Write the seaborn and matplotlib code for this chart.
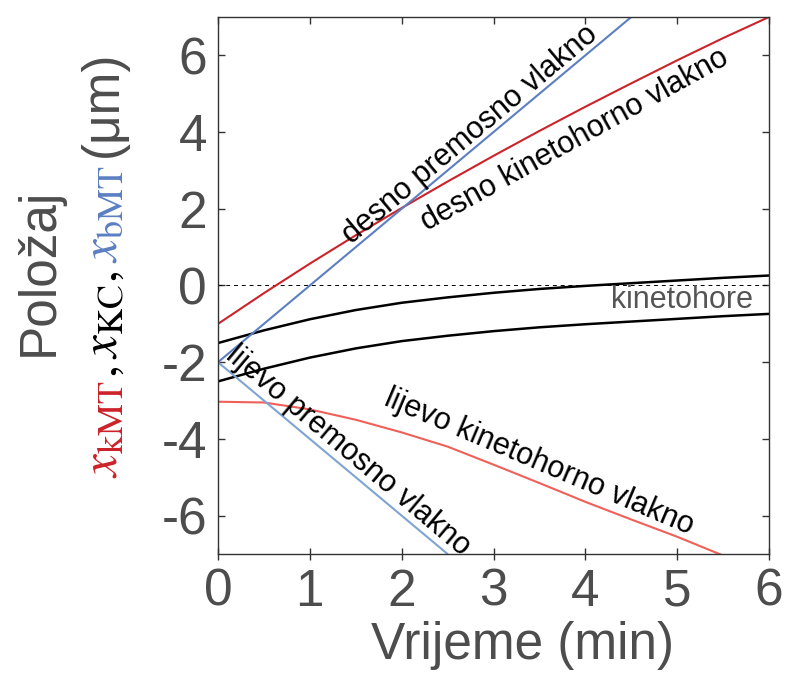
import matplotlib
matplotlib.use('Agg')
import matplotlib.pyplot as plt
import seaborn as sns

sns.set_theme(style="white")
plt.rcParams['font.family'] = ['Liberation Sans', 'DejaVu Sans']
plt.rcParams['mathtext.fontset'] = 'stix'
plt.rcParams['axes.unicode_minus'] = False

# ---- data ----
t_grid = [0, 0.5, 1, 1.5, 2, 2.5, 3, 3.5, 4, 4.5, 5, 5.5, 6]
kc_upper = [-1.5, -1.17, -0.88, -0.64, -0.45, -0.31, -0.19, -0.09, -0.01, 0.06, 0.13, 0.2, 0.26]
kc_lower = [-2.5, -2.17, -1.88, -1.64, -1.45, -1.31, -1.19, -1.09, -1.01, -0.94, -0.87, -0.8, -0.74]
kmt_right = [-1.0, -0.2, 0.57, 1.31, 2.02, 2.71, 3.38, 4.03, 4.66, 5.27, 5.87, 6.45, 7.0]

t_kmt_left = [0, 0.5, 1, 1.5, 2, 2.5, 3, 3.5, 4, 4.5, 5, 5.5]
kmt_left = [-3.03, -3.05, -3.23, -3.5, -3.83, -4.2, -4.67, -5.15, -5.64, -6.1, -6.55, -7.04]

t_bmt_right = [0, 4.5]
bmt_right = [-2, 7]
t_bmt_left = [0, 2.5]
bmt_left = [-2, -7]

x_ticks = [0, 1, 2, 3, 4, 5, 6]
y_ticks = [-6, -4, -2, 0, 2, 4, 6]

RED_DARK = '#cc2229'
RED_LIGHT = '#ef6158'
BLUE_DARK = '#5b7fc1'
BLUE_LIGHT = '#7ea4d6'
GREY = '#4d4d4d'

fig = plt.figure(figsize=(7.87, 6.73), dpi=100)
ax = fig.add_axes([218 / 787, 1 - 554 / 673, 551 / 787, 537 / 673])

ax.axhline(0, color='black', linewidth=0.7, linestyle=(0, (4, 4)))
sns.lineplot(x=t_grid, y=kc_upper, color='black', linewidth=1.8, ax=ax)
sns.lineplot(x=t_grid, y=kc_lower, color='black', linewidth=1.8, ax=ax)
sns.lineplot(x=t_grid, y=kmt_right, color=RED_DARK, linewidth=1.5, ax=ax)
sns.lineplot(x=t_kmt_left, y=kmt_left, color=RED_LIGHT, linewidth=1.5, ax=ax)
sns.lineplot(x=t_bmt_right, y=bmt_right, color=BLUE_DARK, linewidth=1.5, ax=ax)
sns.lineplot(x=t_bmt_left, y=bmt_left, color=BLUE_LIGHT, linewidth=1.5, ax=ax)

ax.set_xlim(0, 6)
ax.set_ylim(-7, 7)
ax.set_xticks(x_ticks)
ax.set_yticks(y_ticks)
ax.set_xticklabels([str(v) for v in x_ticks])
ax.set_yticklabels([str(v) for v in y_ticks])

for s in ax.spines.values():
    s.set_color('#333333')
    s.set_linewidth(1.0)
ax.tick_params(axis='y', direction='in', length=5, width=1, color='#333333',
               left=True, right=True, labelsize=37, labelcolor=GREY, pad=8)
ax.tick_params(axis='x', direction='inout', length=8, width=1, color='#333333',
               bottom=True, top=False, labelsize=37, labelcolor=GREY, pad=6)
top = ax.secondary_xaxis('top')
top.set_xticks(x_ticks)
top.tick_params(axis='x', direction='in', length=5, width=1, color='#333333', labeltop=False)
top.spines['top'].set_visible(False)

ax.set_xlabel('Vrijeme (min)', fontsize=37, color=GREY)
ax.xaxis.set_label_coords(0.552, -0.125)
ax.set_ylabel('')

# curve labels
lab = dict(fontsize=22, color='black', ha='center', va='center', rotation_mode='anchor')
ax.text(2.74, 3.94, 'desno premosno vlakno', rotation=40, **lab)
ax.text(3.88, 3.8, 'desno kinetohorno vlakno', rotation=29, **lab)
ax.text(1.42, -4.31, 'lijevo premosno vlakno', rotation=-40, **lab)
ax.text(3.5, -4.6, 'lijevo kinetohorno vlakno', rotation=-23, **lab)
ax.text(5.83, -0.39, 'kinetohore', fontsize=22, color='#555555', ha='right', va='center')

# y label: "Položaj" plus a multi-coloured second line
fig.text(39 / 787, 1 - 272 / 673, 'Položaj', rotation=90, fontsize=37, color=GREY,
         ha='center', va='center')

fig.canvas.draw()
renderer = fig.canvas.get_renderer()
fig_h = fig.bbox.height
# (text, colour, extra gap in px after the piece)
pieces = [
    (r'$x_{\mathrm{kMT}}$', RED_DARK, 3),
    (r'$,x_{\mathrm{KC}},$', 'black', 7),
    (r'$x_{\mathrm{bMT}}$', BLUE_DARK, 9),
    ('(μm)', GREY, 0),
]
ypos = (673 - 478) / 673
for txt, col, gap in pieces:
    t = fig.text(117 / 787, ypos, txt, rotation=90, fontsize=37, color=col,
                 ha='left', va='baseline', rotation_mode='anchor')
    ext = t.get_window_extent(renderer)
    ypos += (ext.height + gap) / fig_h

fig.savefig('out.png', dpi=100)
